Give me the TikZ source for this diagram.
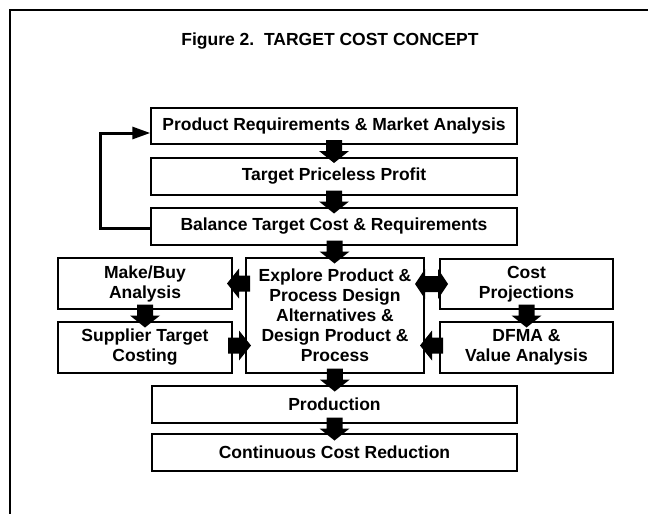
\documentclass[tikz,border=0pt]{standalone}
\usepackage{fontspec}
\setmainfont{Liberation Sans}
\usetikzlibrary{calc,arrows.meta}

\newcommand\boxtextfont{\fontsize{17.5}{20}\selectfont\bfseries}

\tikzset{
  box/.style={draw, line width=1.4pt, inner sep=0pt, align=center, font=\boxtextfont},
  frameline/.style={line width=2pt},
  loopline/.style={line width=3pt, -{Triangle[length=18pt,width=12pt]}},
  % fat block arrow pointing along +x, centred on its base
  blockarrow/.pic={
    \fill (-11,-8) -- (0,-8) -- (0,-15) -- (12,0) -- (0,15) -- (0,8) -- (-11,8) -- cycle;
  },
  % fat block arrow with heads at both ends
  blockdouble/.pic={
    \fill (-17,0) -- (-7,-15) -- (-7,-8) -- (6,-8) -- (6,-15) -- (16,0)
          -- (6,15) -- (6,8) -- (-7,8) -- (-7,15) -- cycle;
  }
}

\begin{document}
\begin{tikzpicture}[x=1pt, y=-1pt]
\useasboundingbox (0,0) rectangle (648,514);

% outer frame
\draw[frameline] (10,520) -- (10,10) -- (656,10);

% title
\node[font=\fontsize{17.5}{20}\selectfont\bfseries] (title) at (330,41) {Figure 2.\ \ TARGET COST CONCEPT};

% main column
\node[box, minimum width=366pt, minimum height=36pt] (req)     at (334,126)   {Product Requirements \& Market Analysis};
\node[box, minimum width=366pt, minimum height=37pt] (price)   at (334,176.5) {Target Priceless Profit};
\node[box, minimum width=366pt, minimum height=37pt] (balance) at (334,226.5) {Balance Target Cost \& Requirements};

% middle row
\node[box, minimum width=174pt, minimum height=51pt]  (makebuy)  at (145,283.5)  {Make/Buy\\Analysis};
\node[box, minimum width=174pt, minimum height=51pt]  (supplier) at (145,347.5)  {Supplier Target\\Costing};
\node[box, minimum width=178pt, minimum height=115pt] (explore)  at (335,315.5)  {Explore Product \&\\Process Design\\Alternatives \&\\Design Product \&\\Process};
\node[box, minimum width=173pt, minimum height=50pt]  (cost)     at (526.5,284)  {Cost\\Projections};
\node[box, minimum width=173pt, minimum height=51pt]  (dfma)     at (526.5,347.5){DFMA \&\\Value Analysis};

% lower column
\node[box, minimum width=365pt, minimum height=37pt] (prod)   at (334.5,404.5) {Production};
\node[box, minimum width=365pt, minimum height=37pt] (contin) at (334.5,452.5) {Continuous Cost Reduction};

% feedback loop
\draw[loopline] ($(balance.west)+(0,1.5)$) -- ++(-50,0) |- ($(req.west)+(0,7)$);

% block arrows down the main column
\pic[rotate=-90] at ($(req.south)!0.5!(price.north)$) {blockarrow};
\pic[rotate=-90] at ($(price.south)!0.5!(balance.north)$) {blockarrow};
\pic[rotate=-90] at ($(balance.south)!0.5!(explore.north)$) {blockarrow};
\pic[rotate=-90] at ($(explore.south)!0.5!(prod.north)$) {blockarrow};
\pic[rotate=-90] at ($(prod.south)!0.5!(contin.north)$) {blockarrow};

% side boxes
\pic[rotate=-90] at ($(makebuy.south)!0.5!(supplier.north)$) {blockarrow};
\pic[rotate=-90] at ($(cost.south)!0.5!(dfma.north)$) {blockarrow};
\pic[rotate=180] at ($(makebuy.east)!0.5!(explore.west |- makebuy.east)$) {blockarrow};
\pic at ($(supplier.east)!0.5!(explore.west |- supplier.east)+(0,-2)$) {blockarrow};
\pic at ($(explore.east |- cost.west)!0.5!(cost.west)$) {blockdouble};
\pic[rotate=180] at ($(explore.east |- dfma.west)!0.5!(dfma.west)+(0,-2)$) {blockarrow};
\end{tikzpicture}
\end{document}
